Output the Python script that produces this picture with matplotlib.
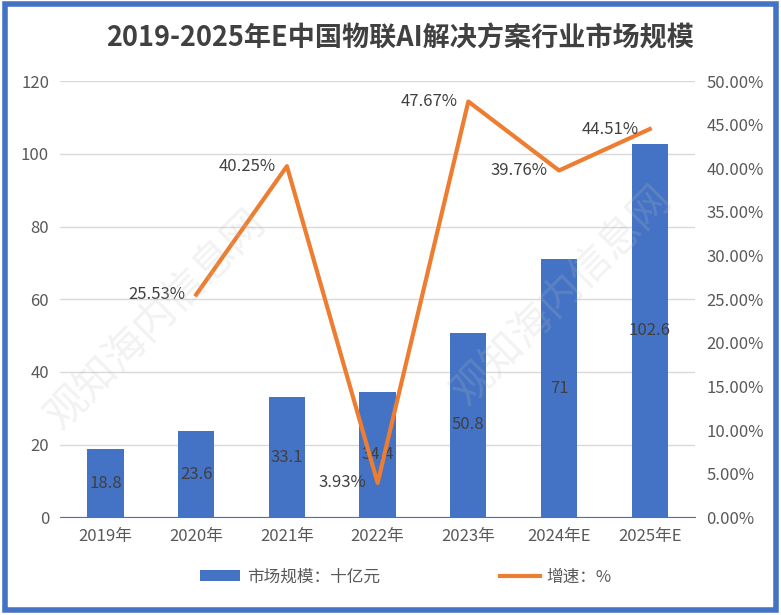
import numpy as np
import matplotlib
matplotlib.use("Agg")
from matplotlib import pyplot as plt
from matplotlib.patches import Rectangle
from matplotlib.ticker import FuncFormatter

plt.rcParams['font.family'] = ['Noto Sans CJK SC', 'DejaVu Sans']
plt.rcParams['axes.unicode_minus'] = False

years = ['2019年', '2020年', '2021年', '2022年', '2023年', '2024年E', '2025年E']
market_size = [18.8, 23.6, 33.1, 34.4, 50.8, 71, 102.6]
growth = [np.nan, 25.53, 40.25, 3.93, 47.67, 39.76, 44.51]

bar_color = '#4472C4'
line_color = '#ED7D31'
text_color = '#595959'

fig = plt.figure(figsize=(7.81, 6.15), dpi=100)
ax = fig.add_axes([0.077, 0.159, 0.813, 0.709])
x = np.arange(len(years))

ax.bar(x, market_size, width=0.4, color=bar_color, zorder=2, label='市场规模：十亿元')
for xi, v in zip(x, market_size):
    ax.text(xi, v / 2, f'{v:g}', ha='center', va='center', fontsize=12, color='#404040', zorder=5)

ax.set_ylim(0, 120)
ax.set_yticks(range(0, 121, 20))
ax.set_xlim(-0.5, len(years) - 0.5)
ax.set_xticks(x)
ax.set_xticklabels(years)
ax.grid(axis='y', color='#D9D9D9', linewidth=1, zorder=0)
ax.set_axisbelow(True)
for side in ['left', 'right', 'top']:
    ax.spines[side].set_visible(False)
ax.spines['bottom'].set_color(bar_color)
ax.tick_params(length=0, labelsize=12, labelcolor=text_color, pad=8)

ax2 = ax.twinx()
ax2.plot(x, growth, color=line_color, linewidth=3, zorder=3, label='增速：%')
for xi, g in zip(x, growth):
    if not np.isnan(g):
        ax2.annotate(f'{g:.2f}%', (xi, g), xytext=(-8, 0), textcoords='offset points',
                     ha='right', va='center', fontsize=12, color='#404040')
ax2.set_ylim(0, 50)
ax2.set_yticks(range(0, 51, 5))
ax2.yaxis.set_major_formatter(FuncFormatter(lambda v, p: f'{v:.2f}%'))
for side in ['left', 'right', 'top', 'bottom']:
    ax2.spines[side].set_visible(False)
ax2.tick_params(length=0, labelsize=12, labelcolor=text_color, pad=8)

# faint watermark
for wx, wy in [(0.2, 0.48), (0.72, 0.52)]:
    fig.text(wx, wy, '观知海内信息网', fontsize=30, color='#BFBFBF', alpha=0.2,
             rotation=45, ha='center', va='center')

fig.suptitle('2019-2025年E中国物联AI解决方案行业市场规模', x=0.512, y=0.96, fontsize=19.5,
             fontweight='bold', color='#404040')

h1, l1 = ax.get_legend_handles_labels()
h2, l2 = ax2.get_legend_handles_labels()
fig.legend(h1 + h2, l1 + l2, loc='center', bbox_to_anchor=(0.52, 0.062), ncol=2,
           frameon=False, fontsize=12, labelcolor=text_color, columnspacing=7.2,
           handlelength=2.4, handletextpad=0.4)

fig.add_artist(Rectangle((0.006, 0.008), 0.988, 0.985, transform=fig.transFigure,
                         fill=False, edgecolor=bar_color, linewidth=4))

fig.savefig('out.png', dpi=100)
